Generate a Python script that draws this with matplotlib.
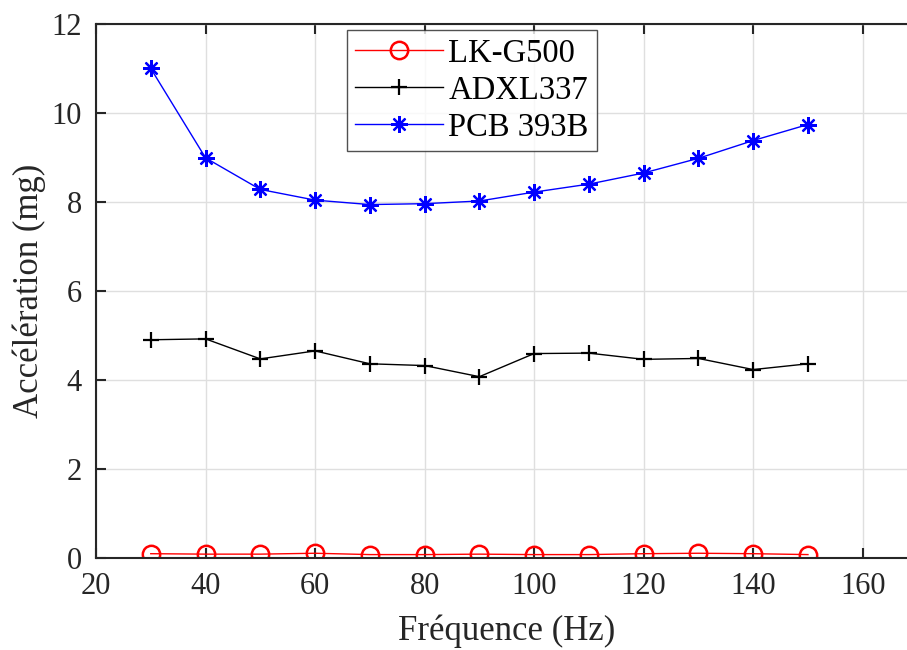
import matplotlib
matplotlib.use("Agg")
import matplotlib.pyplot as plt

freq = [30, 40, 50, 60, 70, 80, 90, 100, 110, 120, 130, 140, 150]
lk_g500 = [0.09, 0.08, 0.08, 0.10, 0.07, 0.07, 0.08, 0.07, 0.07, 0.09, 0.10, 0.09, 0.07]
adxl337 = [4.90, 4.92, 4.47, 4.65, 4.36, 4.32, 4.07, 4.59, 4.60, 4.46, 4.48, 4.23, 4.36]
pcb393b = [11.0, 8.99, 8.28, 8.04, 7.94, 7.96, 8.02, 8.22, 8.40, 8.65, 8.98, 9.38, 9.74]
labels = ["LK-G500", "ADXL337", "PCB 393B"]

plt.rcParams['font.family'] = ['Liberation Serif', 'DejaVu Serif']

fig = plt.figure(figsize=(9.07, 6.5), dpi=100)
ax = fig.add_axes([96/907, 1-557.7/650, (917.5-96)/907, (557.7-24)/650])

ax.plot(freq, lk_g500, color='red', lw=1.0, marker='o', ms=12.5, mfc='none', mew=1.8, label=labels[0])
ax.plot(freq, adxl337, color='black', lw=1.0, marker='+', ms=11.5, mew=1.6, label=labels[1])
ax.plot(freq, pcb393b, color='blue', lw=1.0, marker=(8, 2, 0), ms=12, mew=1.6, label=labels[2])

ax.set_xlim(20, 170)
ax.set_ylim(0, 12)
ax.set_xticks(range(20, 161, 20))
ax.set_yticks(range(0, 13, 2))
ax.grid(True, color='#dfdfdf', lw=1.0)
ax.set_axisbelow(True)
for s in ax.spines.values():
    s.set_color('#262626')
    s.set_linewidth(1.5)
ax.tick_params(direction='in', length=7, width=1.5, color='#262626', labelsize=22, labelcolor='#262626', pad=10, top=True, right=True)
ax.set_xlabel("Fréquence (Hz)", fontsize=25, color='#262626', labelpad=10)
ax.set_ylabel("Accélération (mg)", fontsize=25, color='#262626', labelpad=4)

leg = ax.legend(loc='upper left', bbox_to_anchor=(347/907, 1-30/650), bbox_transform=fig.transFigure,
                fontsize=23.5, frameon=True, fancybox=False, edgecolor='#262626',
                handlelength=2.7, borderpad=0.25, labelspacing=0.2, handletextpad=0.15, borderaxespad=0)
leg.get_frame().set_linewidth(1.0)

fig.savefig("out.png", dpi=100)
